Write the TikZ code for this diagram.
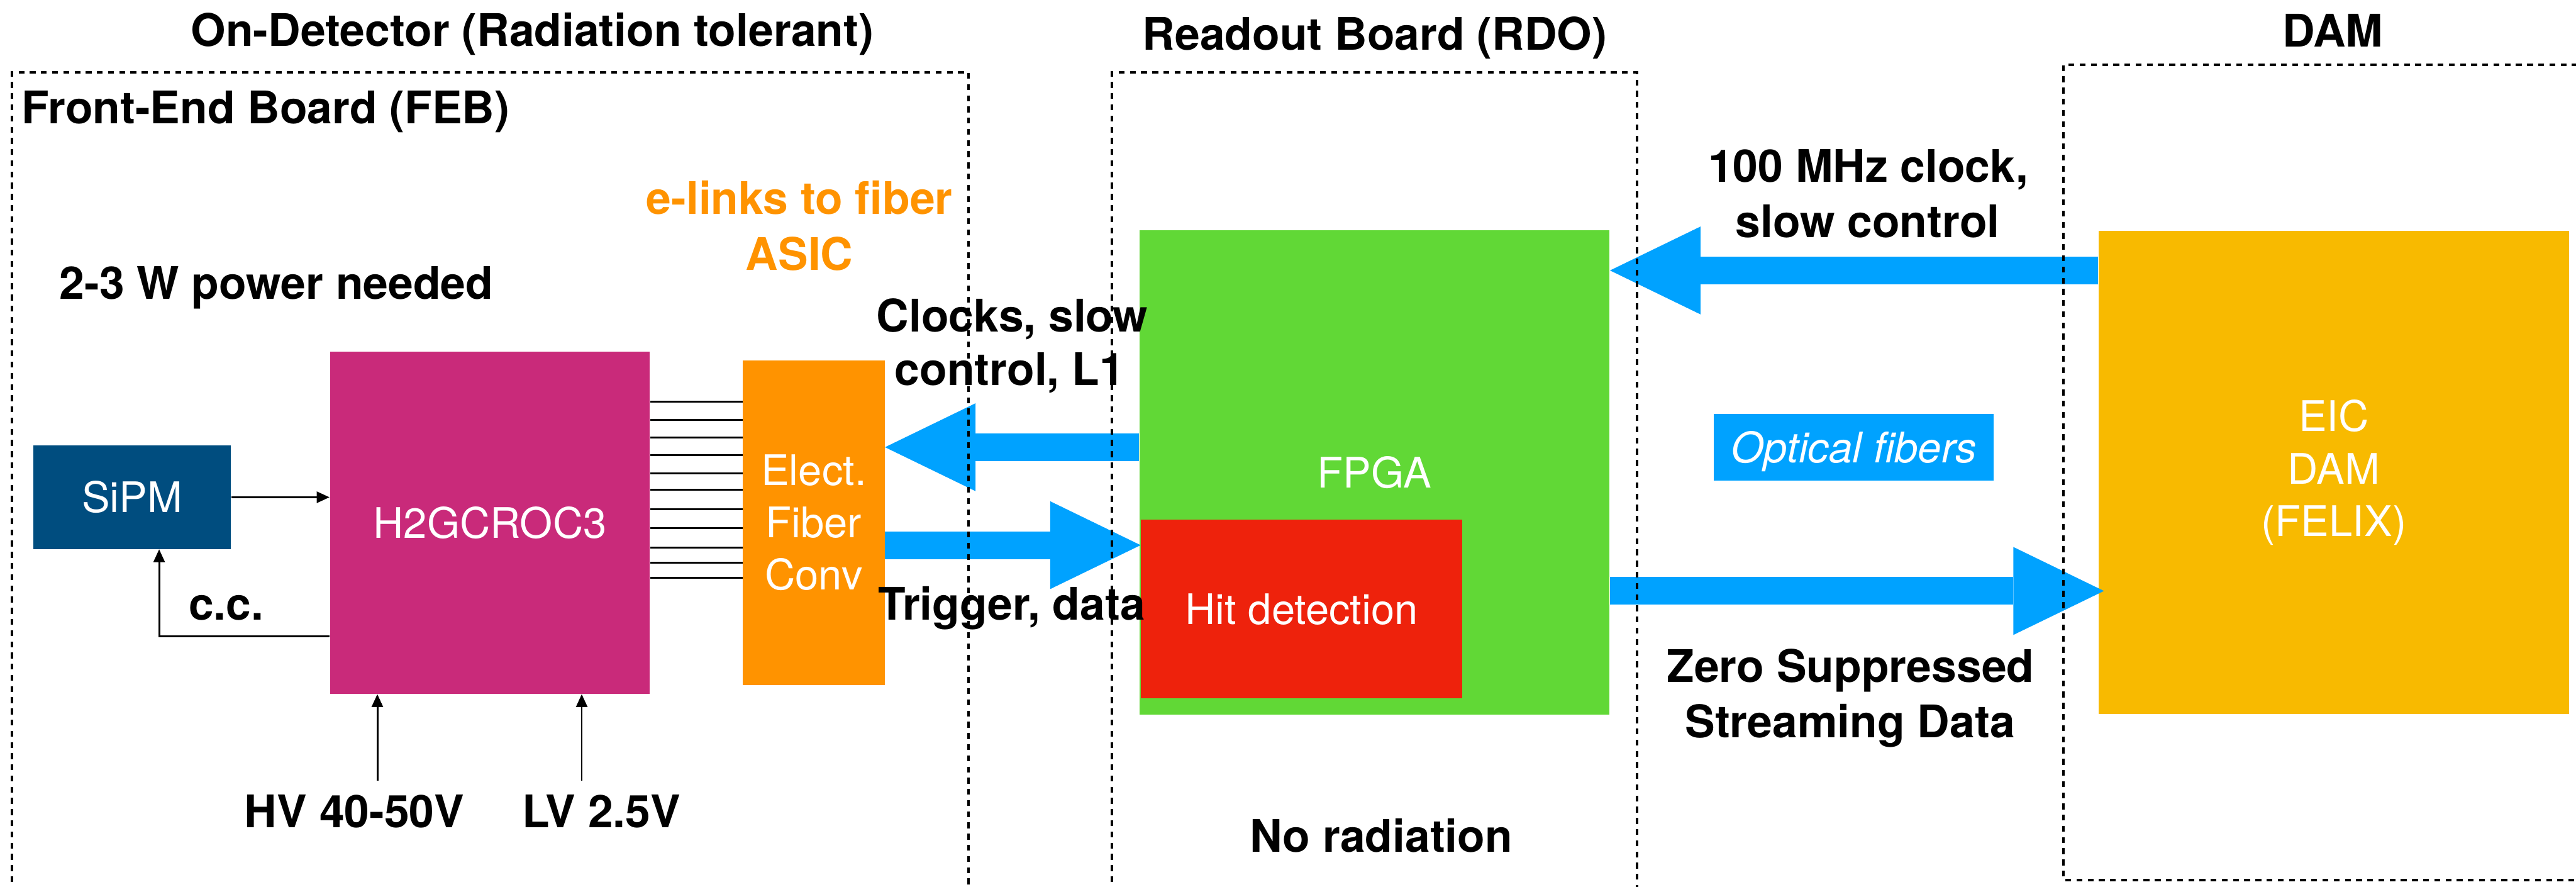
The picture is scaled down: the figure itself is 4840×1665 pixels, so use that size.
\documentclass[tikz,border=0pt]{standalone}
\usepackage{fontspec}
\setmainfont{TeX Gyre Heros}
\usetikzlibrary{arrows.meta,calc}

\definecolor{sipmblue}{HTML}{004D7F}
\definecolor{rocpink}{HTML}{C92A7A}
\definecolor{convorange}{HTML}{FF9300}
\definecolor{fpgagreen}{HTML}{61D836}
\definecolor{hitred}{HTML}{EE220C}
\definecolor{damyellow}{HTML}{F8BA00}
\definecolor{fiberblue}{HTML}{00A2FF}

\newcommand\captionfont{\fontsize{24}{29}\selectfont\bfseries}
\newcommand\boxfont{\fontsize{22.5}{27.9}\selectfont}

\begin{document}
\begin{tikzpicture}[x=0.01cm,y=-0.01cm,
  block/.style={rectangle, inner sep=0pt, text=white, font=\boxfont},
  txt/.style={inner sep=0pt, anchor=base, font=\captionfont},
  region/.style={draw=black, line width=0.045cm, dash pattern=on 0.11cm off 0.10cm},
  fiber/.style={draw=fiberblue, line width=0.52cm,
    -{Triangle[length=1.70cm,width=1.65cm,line width=0pt]}},
  wire/.style={draw=black, line width=0.035cm},
  feed/.style={wire, -{Triangle[length=0.24cm,width=0.21cm]}},
]
\useasboundingbox (0,0) rectangle (4840,1665);
\clip (0,0) rectangle (4840,1665);

% functional blocks
\node[block, fill=sipmblue, minimum width=3.71cm, minimum height=1.94cm] (sipm) at (248.5,934) {SiPM};
\node[block, fill=rocpink, minimum width=6.01cm, minimum height=6.42cm] (roc) at (920.5,982) {H2GCROC3};
\node[block, fill=convorange, minimum width=2.66cm, minimum height=6.10cm, align=center] (conv) at (1529,982) {Elect.\\Fiber\\Conv};
\node[block, fill=fpgagreen, minimum width=8.83cm, minimum height=9.09cm] (fpga) at (2582.5,887.5) {FPGA};
\node[block, fill=hitred, minimum width=6.03cm, minimum height=3.36cm] (hit) at (2445.5,1144) {Hit detection};
\node[block, fill=damyellow, minimum width=8.84cm, minimum height=9.07cm, align=center] (dam) at (4385,887.5) {EIC\\DAM\\(FELIX)};
\node[block, fill=fiberblue, minimum width=5.26cm, minimum height=1.26cm, text depth=0pt, font=\boxfont\itshape] (optical) at (3483,840) {Optical fibers};

% captions
\node[txt] (ondet) at (1000,87) {On-Detector (Radiation tolerant)};
\node[txt] (rdotitle) at (2583,94) {Readout Board (RDO)};
\node[txt] (damtitle) at (4383,88) {DAM};
\node[txt, anchor=base west] (feb) at (40,232) {Front-End Board (FEB)};
\node[txt, text=convorange] (elinks) at (1502,402) {e-links to fiber};
\node[txt, text=convorange] (asic) at (1502,507) {ASIC};
\node[txt, anchor=base west] (power) at (111,562) {2-3 W power needed};
\node[txt] (clk1) at (1902,623) {Clocks, slow};
\node[txt] (clk2) at (1897,724) {control, L1};
\node[txt] (trig) at (1901,1164) {Trigger, data};
\node[txt] (mhz1) at (3510,342) {100 MHz clock,};
\node[txt] (mhz2) at (3509,446) {slow control};
\node[txt] (zs1) at (3477,1282) {Zero Suppressed};
\node[txt] (zs2) at (3476,1386) {Streaming Data};
\node[txt] (norad) at (2595,1601) {No radiation};
\node[txt] (hv) at (666,1554) {HV 40-50V};
\node[txt] (lv) at (1130,1554) {LV 2.5V};
\node[txt, anchor=base west] (cc) at (354,1165) {c.c.};

% signal and supply wiring
\draw[feed] (sipm.east) -- (roc.west |- sipm.east);
\draw[feed] (roc.west |- 0,1195) -| ([xshift=0.505cm]sipm.south);
\coordinate (hvsrc) at (709,1466);
\coordinate (lvsrc) at (1093,1466);
\draw[feed] (hvsrc) -- (hvsrc |- roc.south);
\draw[feed] (lvsrc) -- (lvsrc |- roc.south);

% e-links between the ASIC and the converter
\foreach \y in {754.5,788.4,821.9,855.4,889.3,919.6,956.3,992.4,1028.6,1056.7,1084.8}
  \draw[wire] (roc.east |- 0,\y) -- (conv.west |- 0,\y);

% optical links
\draw[fiber] (fpga.west |- 0,840) -- (conv.east |- 0,840);
\draw[fiber] (conv.east |- 0,1024) -- (hit.west |- 0,1024);
\draw[fiber] (dam.west |- 0,508) -- (fpga.east |- 0,508);
\draw[fiber] (fpga.east |- 0,1110) -- ($(dam.west |- 0,1110)+(11,0)$);

% enclosures
\draw[region] (22,1720) -- (22,136) -- (1820,136) -- (1820,1720);
\draw[region] (2089,1720) -- (2089,136) -- (3076,136) -- (3076,1720);
\draw[region] (4900,1653) -- (3877,1653) -- (3877,122) -- (4900,122);
\end{tikzpicture}
\end{document}
